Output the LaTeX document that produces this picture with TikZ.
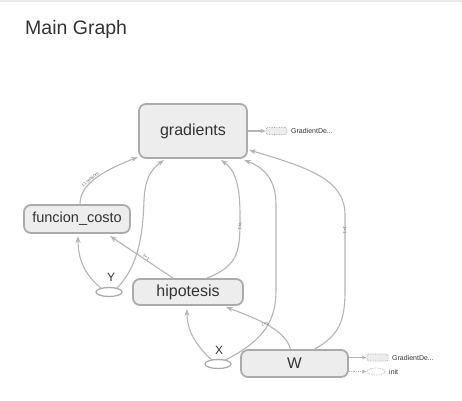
\documentclass[tikz,border=0pt]{standalone}
\usepackage{fontspec}
\setmainfont{Liberation Sans}
\usetikzlibrary{arrows.meta,shapes.geometric}
\definecolor{nodefill}{HTML}{EDEDED}
\definecolor{nodeline}{HTML}{ABABAB}
\definecolor{edgecol}{HTML}{B5B5B5}
\definecolor{txt}{HTML}{333333}
\definecolor{elcol}{HTML}{707070}
\tikzset{
  opbox/.style={draw=nodeline, fill=nodefill, line width=1.8pt, rounded corners=7pt, text=txt, inner sep=0pt},
  phold/.style={draw=nodeline, line width=1.3pt, ellipse, minimum width=26pt, minimum height=9pt, inner sep=0pt},
  edge/.style={draw=edgecol, line width=1.1pt, -{Stealth[length=7pt,width=5pt]}},
  aux/.style={draw=nodeline, fill=nodefill, densely dotted, line width=0.7pt, rounded corners=2pt, minimum width=21pt, minimum height=7pt, inner sep=0pt},
  auxe/.style={draw=nodeline, densely dotted, line width=0.7pt, ellipse, minimum width=18pt, minimum height=7pt, inner sep=0pt},
  auxlbl/.style={font=\fontsize{7}{8}\selectfont, text=txt, anchor=west, inner sep=0pt},
  elbl/.style={font=\fontsize{4.5}{5}\selectfont, text=elcol, inner sep=0.5pt},
  lbl/.style={font=\fontsize{12}{13}\selectfont, text=txt, inner sep=0pt}
}
\begin{document}
\begin{tikzpicture}[x=1pt,y=-1pt]
\useasboundingbox (0,0) rectangle (462,400);
\fill[white] (0,0) rectangle (462,400);
\fill[black!8] (0,0) rectangle (462,2);
\node[anchor=west, text=txt, font=\fontsize{19.5}{21}\selectfont, inner sep=0pt] (title) at (25,29) {Main Graph};

% main nodes
\node[opbox, minimum width=108pt, minimum height=54pt, font=\fontsize{16}{18}\selectfont] (grad) at (193,131) {gradients};
\node[opbox, minimum width=106pt, minimum height=28pt, font=\fontsize{14.5}{16}\selectfont] (cost) at (77,219) {funcion\_costo};
\node[opbox, minimum width=110pt, minimum height=26pt, font=\fontsize{16}{17}\selectfont] (hip) at (188,292) {hipotesis};
\node[opbox, minimum width=107pt, minimum height=27pt, font=\fontsize{15.5}{17}\selectfont] (W) at (294.5,363.5) {W};

% placeholders
\node[phold] (Y) at (109,292) {};
\node[lbl] (Ylbl) at (111,277) {Y};
\node[phold] (X) at (218,364) {};
\node[lbl] (Xlbl) at (219,350) {X};

% auxiliary
\node[aux] (gd1) at (276.5,131) {};
\node[auxlbl] (gd1l) at (291,131) {GradientDe...};
\draw[draw=edgecol, line width=1.1pt, -{Stealth[length=5pt,width=4pt]}] (grad.east) -- (gd1.west);

\node[aux] (gd2) at (377.5,357.5) {};
\node[auxlbl] (gd2l) at (392,357.5) {GradientDe...};
\node[auxe] (init) at (376,371.5) {};
\node[auxlbl] (initl) at (389,371.5) {init};
\draw[draw=edgecol, line width=1.1pt, -{Stealth[length=5pt,width=4pt]}] (W.east |- gd2) -- (gd2.west);
\draw[draw=edgecol, line width=0.8pt, densely dotted, -{Stealth[length=5pt,width=4pt]}] (W.east |- init) -- (init.west);

% edges
\draw[edge] (cost.north) ++(3,0) coordinate (c1) .. controls (80,185) and (100,172) .. (138,157)
  node[elbl, pos=0.45, sloped, above] {11 tensors};
\draw[edge] (Y.north west) ++(2,0) coordinate (y1) .. controls (85,275) and (78,260) .. (78,236);
\draw[edge] (Y.north east) ++(-2,0) coordinate (y2) .. controls (140,265) and (143,230) .. (144,200) .. controls (145,180) and (150,170) .. (164,160);
\draw[edge] (hip.north) ++(-15,0) coordinate (h1) -- (110,236) node[elbl, pos=0.45, sloped, above] {?×1};
\draw[edge] (hip.north) ++(19,0) coordinate (h2) .. controls (240,265) and (240,250) .. (240,215) .. controls (240,185) and (235,170) .. (221,160);
\node[elbl, rotate=-90] (l2) at (240,226) {?×1};
\draw[edge] (X.north west) ++(4,0) coordinate (x1) .. controls (195,345) and (187,330) .. (187,309);
\draw[edge] (X.north east) ++(-3,0) coordinate (x2) .. controls (265,340) and (276,320) .. (276,290) -- (276,205) .. controls (276,180) and (265,168) .. (244,160);
\draw[edge] (W.north) ++(-4,0) coordinate (w1) .. controls (285,330) and (260,320) .. (226,307);
\node[elbl, rotate=20] (l3) at (265,324) {1×1};
\draw[edge] (W.north) ++(20,0) coordinate (w2) .. controls (340,335) and (345,320) .. (345,290) -- (345,215) .. controls (345,180) and (310,168) .. (249,150);
\node[elbl, rotate=-90] (l4) at (345,230) {1×1};
\end{tikzpicture}
\end{document}
